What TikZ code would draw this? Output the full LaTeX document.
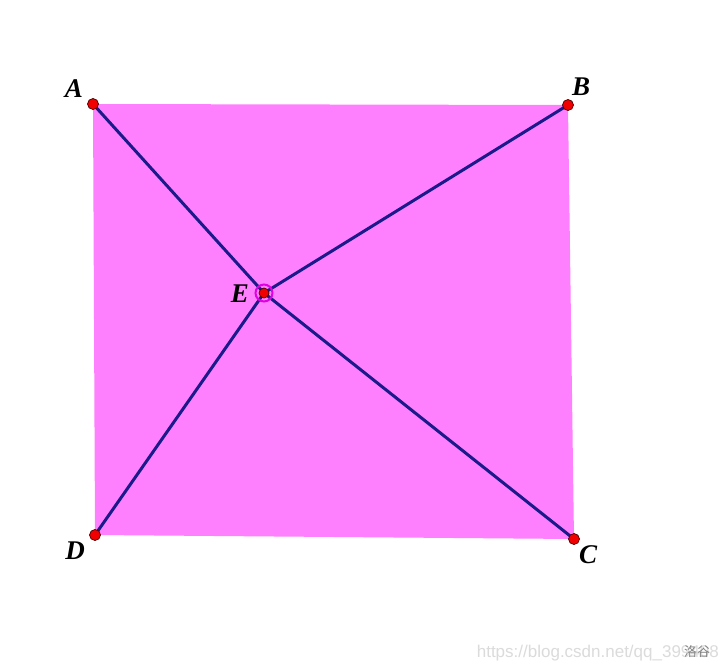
\documentclass[tikz,border=0pt]{standalone}
\usepackage{fontspec}
\setmainfont{Liberation Serif}
\newfontfamily\cjk{Noto Sans CJK SC}
\newfontfamily\wmfont{Liberation Sans}
\definecolor{fillpink}{HTML}{FF80FF}
\definecolor{segblue}{HTML}{1A1A8A}
\definecolor{ptred}{HTML}{F00000}
\definecolor{ringmag}{HTML}{E000E0}
\tikzset{
  seg/.style={draw=segblue,line width=3pt,line join=round},
  pt/.style={circle,fill=ptred,draw=black!70!red,line width=0.7pt,inner sep=0pt,minimum size=11pt},
  lbl/.style={font=\fontsize{27}{30}\selectfont\bfseries\itshape,inner sep=0pt},
}
\begin{document}
\begin{tikzpicture}[x=1pt,y=-1pt]
\useasboundingbox[fill=white] (0,0) rectangle (726,672);
\coordinate (A) at (93,104);
\coordinate (B) at (568,105);
\coordinate (C) at (574,539);
\coordinate (D) at (95,535);
\coordinate (E) at (264,293);
\fill[fillpink] (A) -- (B) -- (C) -- (D) -- cycle;
\draw[seg] (A) -- (E) -- (C);
\draw[seg] (D) -- (E) -- (B);
\node[circle,draw=ringmag,line width=2pt,minimum size=17pt,inner sep=0pt] (Ering) at (E) {};
\node[pt] (pA) at (A) {};
\node[pt] (pB) at (B) {};
\node[pt] (pC) at (C) {};
\node[pt] (pD) at (D) {};
\node[pt,minimum size=10pt] (pE) at (E) {};
\node[lbl] (lA) at (74,89) {A};
\node[lbl] (lB) at (581,87) {B};
\node[lbl] (lC) at (588,555) {C};
\node[lbl] (lD) at (75,551) {D};
\node[lbl] (lE) at (240,294) {E};
\node[anchor=east,inner sep=0pt,text=black!14,font=\wmfont\fontsize{17}{19}\selectfont] (wm) at (719,653) {https://blog.csdn.net/qq\_399408};
\node[inner sep=0pt,text=black!50,font=\cjk\fontsize{13}{15}\selectfont] (wm2) at (697,652) {洛谷};
\end{tikzpicture}
\end{document}
